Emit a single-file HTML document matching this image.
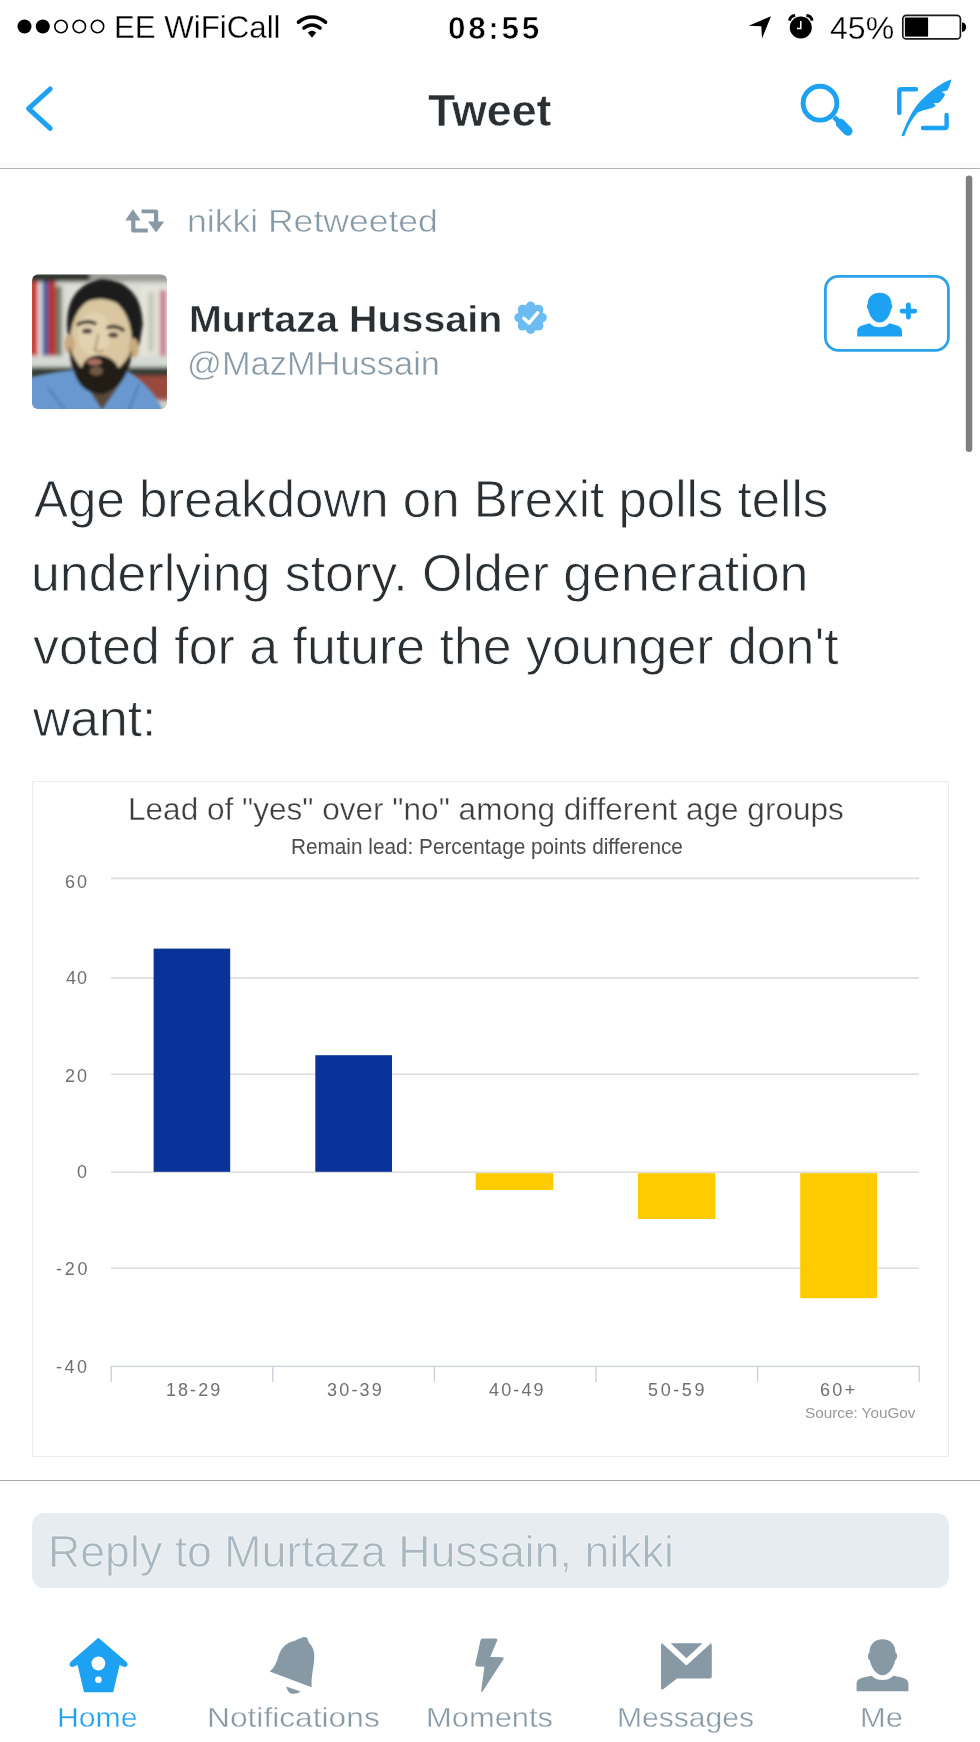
<!DOCTYPE html>
<html><head><meta charset="utf-8">
<style>
html,body{margin:0;padding:0;background:#fff;}
body{width:980px;height:1742px;position:relative;overflow:hidden;font-family:"Liberation Sans",sans-serif;}
.t{position:absolute;white-space:nowrap;line-height:1;transform-origin:0 0;}
.a{position:absolute;}
svg{position:absolute;left:0;top:0;overflow:visible;}
</style></head>
<body>
<div class="a" style="left:0;top:163px;width:980px;height:5px;background:#fafbfc;"></div>
<div class="a" style="left:0;top:167.5px;width:980px;height:1.7px;background:#a9b1b6;"></div>
<div class="a" style="left:32px;top:780.5px;width:915px;height:674px;border:1px solid #ececec;"></div>
<div class="a" style="left:0;top:1479.8px;width:980px;height:1.6px;background:#a3a8ac;"></div>
<div class="a" style="left:32px;top:1513px;width:917px;height:75px;border-radius:12px;background:#e6ecf0;"></div>
<svg width="980" height="1742" viewBox="0 0 980 1742">
<!-- status dots -->
<g fill="#000">
<circle cx="24.5" cy="26.5" r="7"/><circle cx="42.8" cy="26.5" r="7"/>
</g>
<g fill="none" stroke="#000" stroke-width="1.6">
<circle cx="61" cy="26.5" r="6.2"/><circle cx="79.3" cy="26.5" r="6.2"/><circle cx="97.5" cy="26.5" r="6.2"/>
</g>
<!-- wifi -->
<g fill="none" stroke="#000" stroke-width="3.6" stroke-linecap="round">
<path d="M298.5,22.2 A20,20 0 0 1 325.5,22.2"/>
<path d="M304,28 A12,12 0 0 1 320,28"/>
</g>
<path d="M307.8,32.6 A6.5,6.5 0 0 1 316.2,32.6 L312,37.8 Z" fill="#000"/>
<!-- location arrow -->
<path d="M771,16.2 L748.6,25.8 L761.3,26.2 L762,38.6 Z" fill="#000"/>
<!-- alarm -->
<circle cx="800.8" cy="27.5" r="11" fill="#000"/>
<path d="M789.4,20.6 A6.5,6.5 0 0 1 795.2,15.6" stroke="#000" stroke-width="3" fill="none"/>
<path d="M812.2,20.6 A6.5,6.5 0 0 0 806.4,15.6" stroke="#000" stroke-width="3" fill="none"/>
<path d="M800.8,21 L800.8,28.6 L797,28.6" stroke="#fff" stroke-width="1.5" fill="none"/>
<!-- battery -->
<rect x="902.8" y="15.3" width="57.6" height="23.6" rx="3.5" ry="3.5" fill="none" stroke="#1a1a1a" stroke-width="1.7"/>
<rect x="904.9" y="17.5" width="23.2" height="19.1" fill="#000"/>
<path d="M962,22.4 L962.5,22.4 A3.6,4.7 0 0 1 962.5,31.8 L962,31.8 Z" fill="#000"/>

<!-- nav back -->
<polyline points="50.2,89 28.6,108.6 50.2,128.3" fill="none" stroke="#1da1f2" stroke-width="5" stroke-linecap="round" stroke-linejoin="round"/>
<!-- search -->
<circle cx="820" cy="103.2" r="16.9" fill="none" stroke="#1da1f2" stroke-width="4.9"/>
<line x1="834" y1="117" x2="840" y2="123" stroke="#1da1f2" stroke-width="5"/>
<line x1="840.5" y1="123.5" x2="847.8" y2="131" stroke="#1da1f2" stroke-width="9.5" stroke-linecap="round"/>
<!-- compose -->
<path d="M916,89.2 L901.3,89.2 Q899.3,89.2 899.3,91.2 L899.3,112.9" fill="none" stroke="#1da1f2" stroke-width="4.4" stroke-linecap="round"/>
<path d="M946.6,114.9 L946.6,126 Q946.6,128 944.6,128 L923,128" fill="none" stroke="#1da1f2" stroke-width="4.4" stroke-linecap="round"/>
<path d="M901.4,135.8 C907,121 913,109 920.5,101 C928,93 936,87 943,83 C946,81.5 949,80.3 951.3,79.6 C950.5,84 949,88 947.2,90.6 L941.3,91.9 C943.5,92.5 945,93.5 945,94.5 C943.5,98 941.5,100.5 939,102.7 L933.2,103.6 C934.5,104.2 935.6,105 935.6,105.9 C933.5,107.5 931.5,108.3 929.1,108.8 C924.5,110 920.5,111 917.7,112.6 C912,119 907.5,127 904.2,136.2 Z" fill="#1da1f2"/>

<!-- scrollbar -->
<rect x="965.8" y="175.5" width="6.5" height="276.5" rx="3.25" fill="#7f7f7f"/>

<!-- retweet icon -->
<g fill="#8899a6">
<path d="M132.9,209.2 L125.2,220.6 L140.8,220.6 Z"/>
<path d="M131.2,219 L135.4,219 L135.4,228.6 L147.8,228.6 L147.8,232.4 L133.2,232.4 Q131.2,232.4 131.2,230.4 Z"/>
<path d="M141.6,209.4 L156,209.4 Q158.2,209.4 158.2,211.4 L158.2,223 L154,223 L154,213.2 L141.6,213.2 Z"/>
<path d="M148,221.6 L164.2,221.6 L156.1,232.6 Z"/>
</g>

<!-- avatar -->
<defs><clipPath id="avc"><rect x="32" y="274.5" width="135" height="134.5" rx="6" ry="6"/></clipPath>
<filter id="blur1" x="-10%" y="-10%" width="120%" height="120%"><feGaussianBlur stdDeviation="1.6"/></filter>
<filter id="blur2" x="-10%" y="-10%" width="120%" height="120%"><feGaussianBlur stdDeviation="2"/></filter></defs>
<g clip-path="url(#avc)">
<g transform="translate(30,272)">
<rect x="0" y="0" width="140" height="140" fill="#cfd2cc"/>
<g filter="url(#blur2)">
<rect x="0" y="0" width="60" height="12" fill="#33362f"/>
<rect x="60" y="0" width="80" height="10" fill="#9a9d96"/>
<rect x="20" y="10" width="120" height="76" fill="#dcddd5"/>
<rect x="0" y="10" width="8" height="76" fill="#c8302c"/>
<rect x="8" y="10" width="4" height="76" fill="#e8e8e8"/>
<rect x="12" y="10" width="6" height="76" fill="#3b5ea0"/>
<rect x="18" y="10" width="8" height="76" fill="#b83030"/>
<rect x="26" y="14" width="6" height="72" fill="#6a7a65"/>
<rect x="110" y="14" width="30" height="72" fill="#e4e4da"/>
<rect x="118" y="20" width="6" height="60" fill="#c8c8b8"/>
<rect x="130" y="18" width="6" height="68" fill="#c9708a"/>
<rect x="0" y="84" width="140" height="12" fill="#d6dad4"/>
<rect x="0" y="95" width="140" height="18" fill="#353a32"/>
<rect x="100" y="104" width="40" height="24" fill="#9a4a3c"/>
</g>
<g filter="url(#blur1)">
<g transform="translate(71,0) scale(0.93,1) translate(-71,0)">
<path d="M-8,106 Q18,100 40,98 L98,98 Q112,106 124,118 Q133,128 138,140 L-8,140 Z" fill="#6898cf"/>
<path d="M14,116 L34,140 M112,112 L100,140" stroke="#4f7db3" stroke-width="2.2"/>
<path d="M50,106 L72,138 L96,106 Z" fill="#5a4a38"/>
<path d="M35,62 Q30,14 72,7 Q114,9 116,52 L112,74 L37,74 Z" fill="#1e1c1a"/>
<ellipse cx="71" cy="68" rx="33" ry="43" fill="#dac6a0"/>
<ellipse cx="64" cy="62" rx="18" ry="22" fill="#e2d2b0"/>
<ellipse cx="37" cy="72" rx="5.5" ry="10" fill="#c8aa80"/>
<ellipse cx="106" cy="76" rx="5.5" ry="10" fill="#c8aa80"/>
<path d="M38,48 Q40,22 72,23 Q104,24 110,52 Q100,30 72,27 Q46,27 38,48 Z" fill="#1e1c1a"/>
<path d="M37,74 Q38,100 50,114 Q62,124 74,122 Q92,116 100,98 Q104,88 104,78 Q98,90 90,96 Q84,84 68,83 Q54,84 50,96 Q42,88 37,74 Z" fill="#221d19"/>
<ellipse cx="66" cy="99" rx="7" ry="4.5" fill="#6e5a44"/>
<ellipse cx="64" cy="90" rx="8" ry="3.2" fill="#a87060"/>
<path d="M45,53 Q55,47 66,52" stroke="#2a2420" stroke-width="3.5" fill="none"/>
<path d="M77,56 Q87,52 96,59" stroke="#2a2420" stroke-width="3.5" fill="none"/>
<ellipse cx="56" cy="59" rx="5.5" ry="2.6" fill="#4a3a30"/>
<ellipse cx="84" cy="63" rx="5.5" ry="2.6" fill="#4a3a30"/>
<path d="M68,62 Q66,74 64,78 Q70,81 74,78" stroke="#b09068" stroke-width="2" fill="none"/>
</g>
</g>
</g>
</g>

<!-- verified -->
<g transform="translate(530.6,317.7)"><g fill="#6cbcf2"><circle r="13.4"/><circle cx="0.00" cy="11.40" r="4.8"/><circle cx="-8.06" cy="8.06" r="4.8"/><circle cx="-11.40" cy="0.00" r="4.8"/><circle cx="-8.06" cy="-8.06" r="4.8"/><circle cx="-0.00" cy="-11.40" r="4.8"/><circle cx="8.06" cy="-8.06" r="4.8"/><circle cx="11.40" cy="-0.00" r="4.8"/><circle cx="8.06" cy="8.06" r="4.8"/></g>
<path d="M-6.8,0.6 L-1.6,5.4 L7,-4.8" stroke="#fff" stroke-width="3.4" fill="none" stroke-linecap="round" stroke-linejoin="round"/>
</g>

<!-- follow button -->
<rect x="825.4" y="276.3" width="123" height="74" rx="13" ry="13" fill="#fff" stroke="#2ca2e8" stroke-width="2.8"/>
<g fill="#1da1f2">
<path d="M879.6,292.8 C886.5,292.8 891.5,297 891.5,304 C892.8,305 892.6,308.5 891,309.5 C889.8,316 885.5,322.5 879.6,322.5 C873.7,322.5 869.4,316 868.2,309.5 C866.6,308.5 866.4,305 867.7,304 C867.7,297 872.7,292.8 879.6,292.8 Z"/>
<path d="M857.2,336.6 L857.2,331.5 C857.2,328 859.5,326.5 862,325.5 L869.5,323.2 C873,326.5 876,327.2 879.6,327.2 C883.2,327.2 886.2,326.5 889.7,323.2 L897.2,325.5 C899.7,326.5 902,328 902,331.5 L902,336.6 Z"/>
</g>
<path d="M908.4,305 L908.4,317.2 M902,311.1 L914.8,311.1" stroke="#1da1f2" stroke-width="4.8" stroke-linecap="round"/>

<!-- CHART -->
<g stroke="#dcdcdc" stroke-width="1.6">
<line x1="111" y1="878.4" x2="919" y2="878.4"/>
<line x1="111" y1="977.9" x2="919" y2="977.9"/>
<line x1="111" y1="1074.2" x2="919" y2="1074.2"/>
<line x1="111" y1="1172.2" x2="919" y2="1172.2"/>
<line x1="111" y1="1268.3" x2="919" y2="1268.3"/>
</g>
<g stroke="#c9d2d9" stroke-width="1.4" fill="none">
<line x1="111" y1="1366.4" x2="919.8" y2="1366.4"/>
<line x1="111.2" y1="1366" x2="111.2" y2="1382"/>
<line x1="272.8" y1="1366" x2="272.8" y2="1382"/>
<line x1="434.4" y1="1366" x2="434.4" y2="1382"/>
<line x1="596" y1="1366" x2="596" y2="1382"/>
<line x1="757.6" y1="1366" x2="757.6" y2="1382"/>
<line x1="919.2" y1="1366" x2="919.2" y2="1382"/>
</g>
<g fill="#0a3399">
<rect x="153.6" y="948.6" width="76.6" height="223.2"/>
<rect x="315.3" y="1055.2" width="76.7" height="116.6"/>
</g>
<g fill="#fecb00">
<rect x="475.7" y="1173.2" width="77.6" height="16.8"/>
<rect x="638" y="1173.2" width="77.5" height="45.8"/>
<rect x="800.2" y="1173.2" width="77" height="125"/>
</g>

<!-- tab icons -->
<g fill="#1da1f2">
<path fill-rule="evenodd" d="M98.4,1637.8 L126,1661.5 Q128.5,1664 127,1666 Q125.5,1667.6 123,1666.5 L119.6,1665 L113.2,1692.2 L84,1692.2 L77.6,1665 L74,1666.5 Q71.5,1667.6 70,1666 Q68.6,1664 71,1661.5 Z M98.4,1656.6 A6.9,6.9 0 1 0 98.4,1670.4 A6.9,6.9 0 1 0 98.4,1656.6 Z M98.4,1676.5 A3.3,3.3 0 1 0 98.4,1683.1 A3.3,3.3 0 1 0 98.4,1676.5 Z"/>
</g>
<g fill="#8899a6">
<path d="M269.7,1671.6 C274,1668 276.5,1663 278.2,1657 C281,1647.5 287,1642 295,1640.8 Q299.5,1637.2 304.5,1638.2 Q308.5,1639.5 309.2,1643.2 C313.8,1647 315,1654 314,1662 C313,1670 311,1678 311.6,1687.3 Z"/>
<circle cx="304.3" cy="1640.6" r="3.7"/>
<path d="M286.3,1686.4 L300.6,1691.6 Q297.5,1694.2 292.5,1693.8 Q287.5,1693 286.3,1686.4 Z"/>
<path d="M482.5,1638.4 L496,1638.4 Q498,1638.6 497.2,1640.5 L490.2,1657 L502,1657.2 Q504.5,1657.5 503.3,1659.5 L482.5,1691.5 Q481,1693 481.2,1690.5 L484.4,1666.8 L477,1666.4 Q475,1666.2 475.3,1664 L480.5,1640.2 Q481,1638.4 482.5,1638.4 Z"/>
<path fill-rule="evenodd" d="M663,1643.2 L709.8,1643.2 Q711.8,1643.2 711.8,1645.2 L711.8,1676.6 Q711.8,1678.6 709.8,1678.6 L677,1678.6 L663.5,1689 Q661,1690.5 661,1688 L661,1645.2 Q661,1643.2 663,1643.2 Z M662,1643.2 L686.4,1665.4 L711,1643.2 L702.5,1643.2 L686.4,1658.2 L670.7,1643.2 Z"/>
<path d="M882.5,1639.2 C890.5,1639.2 895.5,1644.5 895.5,1652.5 C897.8,1653.5 897.5,1659 895.2,1660.2 C893.5,1668 888.5,1675.2 882.5,1675.2 C876.5,1675.2 871.5,1668 869.8,1660.2 C867.5,1659 867.2,1653.5 869.5,1652.5 C869.5,1644.5 874.5,1639.2 882.5,1639.2 Z"/>
<path d="M856.6,1691.2 L856.6,1684 C856.6,1680.5 859,1678.8 862,1677.8 L871.5,1675.8 C875,1679.2 878.5,1680 882.5,1680 C886.5,1680 890,1679.2 893.5,1675.8 L903,1677.8 C906,1678.8 908.4,1680.5 908.4,1684 L908.4,1691.2 Z"/>
</g>
</svg>
<div class="t" style="left:114.07px;top:11.40px;font-size:32px;font-weight:400;color:#000;transform:scaleX(0.9759);letter-spacing:0.00px;-webkit-text-stroke:0.3px #fff;">EE WiFiCall</div>
<div class="t" style="left:448.20px;top:12.50px;font-size:31.5px;font-weight:700;color:#000;transform:scaleX(0.9998);letter-spacing:2.65px;-webkit-text-stroke:0.6px #fff;">08:55</div>
<div class="t" style="left:829.97px;top:12.70px;font-size:31px;font-weight:400;color:#000;transform:scaleX(1.0333);letter-spacing:0.00px;-webkit-text-stroke:0.3px #fff;">45%</div>
<div class="t" style="left:428.40px;top:87.50px;font-size:45px;font-weight:700;color:#292f33;transform:scaleX(0.9944);letter-spacing:0.00px;-webkit-text-stroke:0.5px #fff;">Tweet</div>
<div class="t" style="left:186.78px;top:205.30px;font-size:32px;font-weight:400;color:#8899a6;transform:scaleX(1.1104);letter-spacing:0.00px;-webkit-text-stroke:0.5px #fff;">nikki Retweeted</div>
<div class="t" style="left:188.87px;top:301.00px;font-size:37px;font-weight:700;color:#292f33;transform:scaleX(1.0655);letter-spacing:0.00px;-webkit-text-stroke:0.5px #fff;">Murtaza Hussain</div>
<div class="t" style="left:186.96px;top:346.30px;font-size:34px;font-weight:400;color:#8899a6;transform:scaleX(1.0122);letter-spacing:0.00px;-webkit-text-stroke:0.5px #fff;">@MazMHussain</div>
<div class="t" style="left:34.00px;top:473.00px;font-size:52px;font-weight:400;color:#292f33;transform:scaleX(0.9814);letter-spacing:0.00px;-webkit-text-stroke:0.8px #fff;">Age breakdown on Brexit polls tells</div>
<div class="t" style="left:31.01px;top:546.60px;font-size:52px;font-weight:400;color:#292f33;transform:scaleX(0.9974);letter-spacing:0.00px;-webkit-text-stroke:0.8px #fff;">underlying story. Older generation</div>
<div class="t" style="left:33.00px;top:619.50px;font-size:52px;font-weight:400;color:#292f33;transform:scaleX(0.9975);letter-spacing:0.00px;-webkit-text-stroke:0.8px #fff;">voted for a future the younger don't</div>
<div class="t" style="left:33.00px;top:692.30px;font-size:52px;font-weight:400;color:#292f33;transform:scaleX(0.9933);letter-spacing:0.00px;-webkit-text-stroke:0.8px #fff;">want:</div>
<div class="t" style="left:127.84px;top:793.20px;font-size:32px;font-weight:400;color:#3d3d3d;transform:scaleX(0.9857);letter-spacing:0.00px;-webkit-text-stroke:0.4px #fff;">Lead of "yes" over "no" among different age groups</div>
<div class="t" style="left:290.56px;top:836.70px;font-size:21.4px;font-weight:400;color:#4d4d4d;transform:scaleX(0.9703);letter-spacing:0.00px;">Remain lead: Percentage points difference</div>
<div class="t" style="left:65.40px;top:872.90px;font-size:18px;font-weight:400;color:#707070;transform:scaleX(0.9998);letter-spacing:2.10px;">60</div>
<div class="t" style="left:66.00px;top:969.30px;font-size:18px;font-weight:400;color:#707070;transform:scaleX(0.9998);letter-spacing:0.90px;">40</div>
<div class="t" style="left:65.00px;top:1067.00px;font-size:18px;font-weight:400;color:#707070;transform:scaleX(0.9998);letter-spacing:2.00px;">20</div>
<div class="t" style="left:77.00px;top:1163.40px;font-size:18px;font-weight:400;color:#707070;transform:scaleX(0.9998);letter-spacing:0.00px;">0</div>
<div class="t" style="left:55.60px;top:1259.80px;font-size:18px;font-weight:400;color:#707070;transform:scaleX(0.9998);letter-spacing:2.70px;">-20</div>
<div class="t" style="left:56.20px;top:1358.00px;font-size:18px;font-weight:400;color:#707070;transform:scaleX(0.9998);letter-spacing:2.50px;">-40</div>
<div class="t" style="left:166.40px;top:1380.70px;font-size:18px;font-weight:400;color:#707070;transform:scaleX(0.9998);letter-spacing:2.05px;">18-29</div>
<div class="t" style="left:326.90px;top:1380.70px;font-size:18px;font-weight:400;color:#707070;transform:scaleX(0.9998);letter-spacing:2.18px;">30-39</div>
<div class="t" style="left:488.60px;top:1380.70px;font-size:18px;font-weight:400;color:#707070;transform:scaleX(0.9998);letter-spacing:2.15px;">40-49</div>
<div class="t" style="left:648.30px;top:1380.70px;font-size:18px;font-weight:400;color:#707070;transform:scaleX(0.9998);letter-spacing:2.62px;">50-59</div>
<div class="t" style="left:819.80px;top:1381.00px;font-size:18px;font-weight:400;color:#707070;transform:scaleX(0.9998);letter-spacing:2.35px;">60+</div>
<div class="t" style="left:804.51px;top:1405.40px;font-size:15.4px;font-weight:400;color:#999;transform:scaleX(0.9927);letter-spacing:0.00px;">Source: YouGov</div>
<div class="t" style="left:47.52px;top:1530.60px;font-size:43.5px;font-weight:400;color:#a9b7c1;transform:scaleX(1.0272);letter-spacing:0.00px;-webkit-text-stroke:0.5px #fff;">Reply to Murtaza Hussain, nikki</div>
<div class="t" style="left:57.24px;top:1703.60px;font-size:28px;font-weight:400;color:#1da1f2;transform:scaleX(1.0778);letter-spacing:0.00px;-webkit-text-stroke:0.4px #fff;">Home</div>
<div class="t" style="left:207.13px;top:1703.60px;font-size:28px;font-weight:400;color:#8899a6;transform:scaleX(1.1327);letter-spacing:0.00px;-webkit-text-stroke:0.4px #fff;">Notifications</div>
<div class="t" style="left:425.79px;top:1703.60px;font-size:28px;font-weight:400;color:#8899a6;transform:scaleX(1.1036);letter-spacing:0.00px;-webkit-text-stroke:0.4px #fff;">Moments</div>
<div class="t" style="left:616.85px;top:1703.60px;font-size:28px;font-weight:400;color:#8899a6;transform:scaleX(1.0736);letter-spacing:0.00px;-webkit-text-stroke:0.4px #fff;">Messages</div>
<div class="t" style="left:859.79px;top:1703.60px;font-size:28px;font-weight:400;color:#8899a6;transform:scaleX(1.1028);letter-spacing:0.00px;-webkit-text-stroke:0.4px #fff;">Me</div>
</body></html>
